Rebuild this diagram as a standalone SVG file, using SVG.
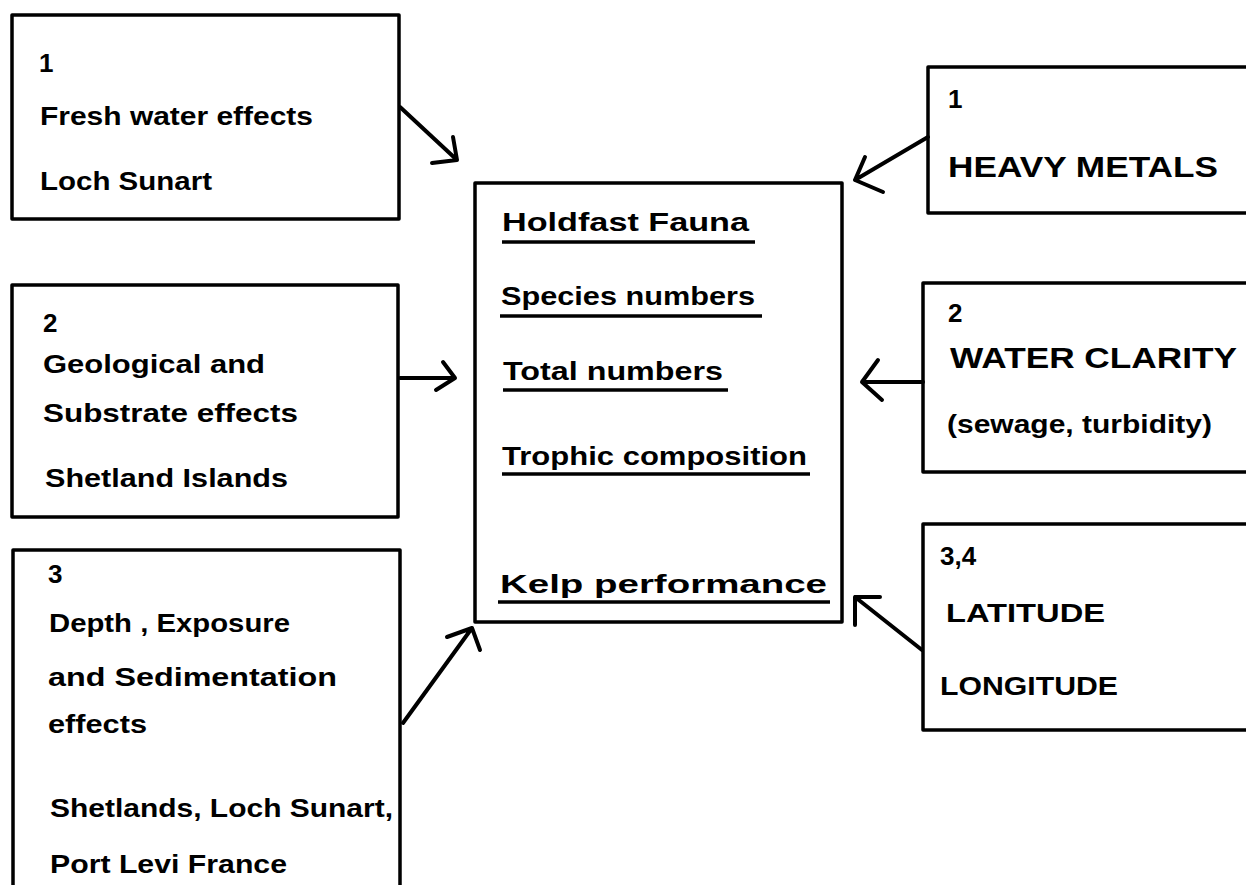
<svg xmlns="http://www.w3.org/2000/svg" width="1246" height="885" viewBox="0 0 1246 885">
<style>
.box{fill:none;stroke:#000;stroke-width:3.5;stroke-linejoin:round}
.t{font-family:"Liberation Sans",Arial,sans-serif;font-weight:bold;font-size:26px;fill:#000}
.c{font-size:29px}
.arr{fill:none;stroke:#000;stroke-width:4;stroke-linecap:round;stroke-linejoin:round}
.ul{stroke:#000;stroke-width:3.5}
</style>
<rect width="1246" height="885" fill="#fff"/>
<g id="box-fresh-water">
<rect class="box" x="12" y="15" width="387" height="204"/>
<text class="t" x="39" y="72">1</text>
<text class="t" x="40" y="125" textLength="273" lengthAdjust="spacingAndGlyphs">Fresh water effects</text>
<text class="t" x="40" y="190" textLength="172" lengthAdjust="spacingAndGlyphs">Loch Sunart</text>
</g>
<g id="box-geological">
<rect class="box" x="12" y="285" width="386" height="232"/>
<text class="t" x="43" y="332">2</text>
<text class="t" x="43" y="373" textLength="222" lengthAdjust="spacingAndGlyphs">Geological and</text>
<text class="t" x="43" y="422" textLength="255" lengthAdjust="spacingAndGlyphs">Substrate effects</text>
<text class="t" x="45" y="487" textLength="243" lengthAdjust="spacingAndGlyphs">Shetland Islands</text>
</g>
<g id="box-depth">
<rect class="box" x="13" y="550" width="387" height="360"/>
<text class="t" x="48" y="583">3</text>
<text class="t" x="49" y="632" textLength="241" lengthAdjust="spacingAndGlyphs">Depth , Exposure</text>
<text class="t" x="48" y="686" textLength="289" lengthAdjust="spacingAndGlyphs">and Sedimentation</text>
<text class="t" x="48" y="733" textLength="99" lengthAdjust="spacingAndGlyphs">effects</text>
<text class="t" x="50" y="817" textLength="343" lengthAdjust="spacingAndGlyphs">Shetlands, Loch Sunart,</text>
<text class="t" x="50" y="873" textLength="237" lengthAdjust="spacingAndGlyphs">Port Levi France</text>
</g>
<g id="box-holdfast">
<rect class="box" x="475" y="183" width="367" height="439"/>
<text class="t" x="502" y="231" textLength="247" lengthAdjust="spacingAndGlyphs">Holdfast Fauna</text>
<line class="ul" x1="502" y1="242" x2="755" y2="242"/>
<text class="t" x="501" y="305" textLength="254" lengthAdjust="spacingAndGlyphs">Species numbers</text>
<line class="ul" x1="500" y1="316" x2="762" y2="316"/>
<text class="t" x="503" y="380" textLength="220" lengthAdjust="spacingAndGlyphs">Total numbers</text>
<line class="ul" x1="503" y1="390" x2="728" y2="390"/>
<text class="t" x="502" y="465" textLength="305" lengthAdjust="spacingAndGlyphs">Trophic composition</text>
<line class="ul" x1="502" y1="474" x2="810" y2="474"/>
<text class="t" x="500" y="593" textLength="327" lengthAdjust="spacingAndGlyphs">Kelp performance</text>
<line class="ul" x1="498" y1="602" x2="830" y2="602"/>
</g>
<g id="box-heavy-metals">
<rect class="box" x="928" y="67" width="340" height="146"/>
<text class="t" x="948" y="108">1</text>
<text class="t c" x="948" y="177" textLength="270" lengthAdjust="spacingAndGlyphs">HEAVY METALS</text>
</g>
<g id="box-water-clarity">
<rect class="box" x="923" y="283" width="345" height="189"/>
<text class="t" x="948" y="322">2</text>
<text class="t c" x="950" y="368" textLength="287" lengthAdjust="spacingAndGlyphs">WATER CLARITY</text>
<text class="t" x="947" y="433" textLength="265" lengthAdjust="spacingAndGlyphs">(sewage, turbidity)</text>
</g>
<g id="box-latitude">
<rect class="box" x="923" y="524" width="345" height="206"/>
<text class="t" x="940" y="565">3,4</text>
<text class="t" x="946" y="622" textLength="159" lengthAdjust="spacingAndGlyphs">LATITUDE</text>
<text class="t" x="940" y="695" textLength="178" lengthAdjust="spacingAndGlyphs">LONGITUDE</text>
</g>
<g id="connectors">
<path class="arr" d="M400 107 L457 160 M453 137 L457 160 L432 163"/>
<path class="arr" d="M400 378 L455 378 M443 362 L455 378 L436 390"/>
<path class="arr" d="M403 723 L472 628 M447 637 L472 628 L480 650"/>
<path class="arr" d="M928 137 L855 180 M865 157 L855 180 L883 192"/>
<path class="arr" d="M923 382 L862 382 M878 360 L862 382 L882 400"/>
<path class="arr" d="M922 650 L855 597 M880 597 L855 597 L855 625"/>
</g>
</svg>
